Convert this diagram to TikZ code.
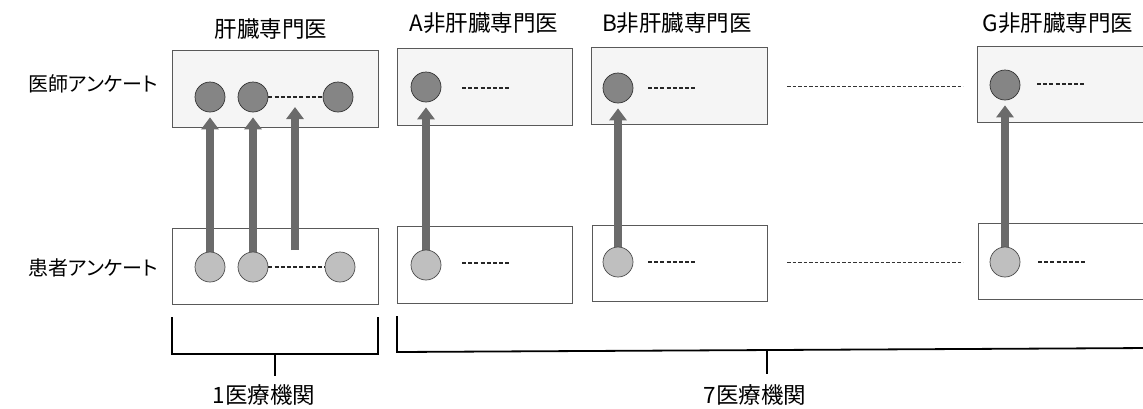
\documentclass[tikz,border=0pt]{standalone}
\usepackage{fontspec}
\newfontfamily\jpf{Noto Sans CJK JP}[RawFeature=+palt]
\usetikzlibrary{arrows.meta}
\tikzset{
  qbox/.style={draw=black!65,line width=0.7pt},
  topbox/.style={qbox,fill=black!4},
  botbox/.style={qbox,fill=white},
  drdot/.style={circle,draw=black!80,line width=0.7pt,fill=black!48,minimum size=30pt,inner sep=0pt},
  ptdot/.style={circle,draw=black!70,line width=0.7pt,fill=black!25,minimum size=30pt,inner sep=0pt},
  bigarrow/.style={draw=black!58,line width=8pt,-{Triangle[width=17pt,length=12pt]},shorten >=5pt},
  dots/.style={black!85,line width=1.2pt,dash pattern=on 4pt off 2.2pt},
  thindots/.style={black!80,line width=0.8pt,dash pattern=on 3.5pt off 2pt},
  bracket/.style={black,line width=1.8pt},
  lab/.style={font=\jpf\fontsize{22.5pt}{26pt}\selectfont,inner sep=0pt},
  sidelab/.style={font=\jpf\fontsize{20pt}{24pt}\selectfont,inner sep=0pt,anchor=east},
}
\begin{document}
\begin{tikzpicture}[x=1pt,y=-1pt]
\useasboundingbox (0,0) rectangle (1143,408);
\clip (0,0) rectangle (1143,408);
% boxes
\draw[topbox] (172,50) rectangle (378,127);
\draw[topbox] (397,48) rectangle (572,125);
\draw[topbox] (591,47) rectangle (767,124);
\draw[topbox] (977,46) rectangle (1170,122);
\draw[botbox] (172,228) rectangle (378,304);
\draw[botbox] (397,226) rectangle (572,303);
\draw[botbox] (592,225) rectangle (767,301);
\draw[botbox] (978,223) rectangle (1170,299);
% circles: doctor (top) and patient (bottom)
\node[drdot] (t1a) at (210,97) {};
\node[drdot] (t1b) at (253,97) {};
\node[drdot] (t1c) at (338,97) {};
\node[drdot] (ta) at (426,87) {};
\node[drdot] (tb) at (618,88) {};
\node[drdot] (tg) at (1005,85) {};
\coordinate (pt1a) at (210,267);
\coordinate (pt1b) at (253,267);
\coordinate (pta) at (426,265);
\coordinate (ptb) at (618,262);
\coordinate (ptg) at (1005,262);
\coordinate (free1) at (295,250);
\coordinate (free2) at (295,107);
% arrows (under the patient circles)
\draw[bigarrow] (pt1a) -- (t1a);
\draw[bigarrow] (pt1b) -- (t1b);
\draw[bigarrow,shorten >=0pt] (free1) -- (free2);
\draw[bigarrow] (pta) -- (ta);
\draw[bigarrow] (ptb) -- (tb);
\draw[bigarrow] (ptg) -- (tg);
\node[ptdot] (b1a) at (pt1a) {};
\node[ptdot] (b1b) at (pt1b) {};
\node[ptdot] (b1c) at (340,267) {};
\node[ptdot] (ba) at (pta) {};
\node[ptdot] (bb) at (ptb) {};
\node[ptdot] (bg) at (ptg) {};
% dashed "..." lines
\draw[dots] (t1b) -- (t1c);
\draw[dots] (b1b) -- (b1c);
\coordinate (da1) at (462,88); \coordinate (da2) at (510,88);
\draw[dots] (da1) -- (da2);
\coordinate (db1) at (648,88); \coordinate (db2) at (696,88);
\draw[dots] (db1) -- (db2);
\coordinate (dg1) at (1037,84); \coordinate (dg2) at (1085,84);
\draw[dots] (dg1) -- (dg2);
\coordinate (ea1) at (462,263); \coordinate (ea2) at (510,263);
\draw[dots] (ea1) -- (ea2);
\coordinate (eb1) at (648,262); \coordinate (eb2) at (696,262);
\draw[dots] (eb1) -- (eb2);
\coordinate (eg1) at (1038,262); \coordinate (eg2) at (1086,262);
\draw[dots] (eg1) -- (eg2);
\coordinate (m1) at (787,86); \coordinate (m2) at (963,86);
\draw[thindots] (m1) -- (m2);
\coordinate (n1) at (787,262); \coordinate (n2) at (963,262);
\draw[thindots] (n1) -- (n2);
% brackets
\coordinate (k1a) at (172,317); \coordinate (k1b) at (172,354);
\coordinate (k1c) at (378,354); \coordinate (k1d) at (378,317);
\draw[bracket] (k1a) -- (k1b) -- (k1c) -- (k1d);
\coordinate (k1t) at (275,354); \coordinate (k1e) at (275,376);
\draw[bracket] (k1t) -- (k1e);
\coordinate (k2a) at (397,316); \coordinate (k2b) at (397,352);
\coordinate (k2c) at (1150,348);
\draw[bracket] (k2a) -- (k2b) -- (k2c);
\coordinate (k2t) at (767,350); \coordinate (k2e) at (767,374);
\draw[bracket] (k2t) -- (k2e);
% labels
\node[lab] (h0) at (271,29) {肝臓専門医};
\node[lab] (hA) at (484,23) {A非肝臓専門医};
\node[lab] (hB) at (677,23) {B非肝臓専門医};
\node[lab] (hG) at (1058,23) {G非肝臓専門医};
\node[sidelab] (ld) at (158,84) {医師アンケート};
\node[sidelab] (lp) at (158,268) {患者アンケート};
\node[lab] (c1) at (264,395) {1医療機関};
\node[lab] (c7) at (755,395) {7医療機関};
\end{tikzpicture}
\end{document}
